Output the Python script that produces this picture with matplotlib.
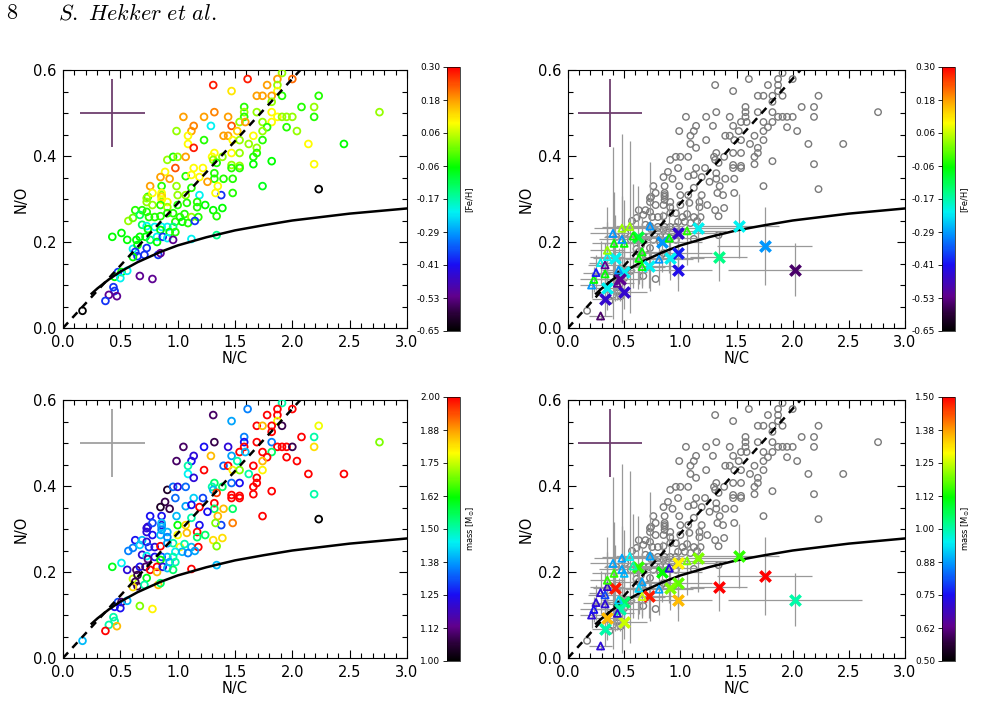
import numpy as np
import matplotlib
matplotlib.use('Agg')
import matplotlib.pyplot as plt
from matplotlib.colors import LinearSegmentedColormap, Normalize
from matplotlib.cm import ScalarMappable

# main sample: N/C, N/O, [Fe/H], mass
nc = [1.31, 1.47, 1.05, 1.23, 1.32, 1.44, 1.29, 1.47, 0.99, 1.12, 1.14, 1.09, 1.23, 1.09, 1.14, 1.32,
      1.40, 1.44, 1.48, 1.47, 0.91, 0.96, 1.00, 1.07, 1.30, 1.31, 1.39, 1.34, 0.98, 1.14, 1.22, 1.47,
      1.47, 0.89, 0.85, 0.93, 1.07, 1.12, 1.19, 1.32, 1.32, 1.40, 1.48, 1.26, 0.76, 0.86, 0.99, 1.12,
      1.35, 1.19, 1.38, 1.48, 0.74, 0.86, 1.61, 1.91, 2.00, 1.87, 1.78, 1.87, 1.87, 1.69, 1.74, 1.82,
      1.91, 2.23, 1.82, 2.08, 2.19, 2.76, 1.58, 1.58, 1.69, 1.82, 1.58, 1.87, 1.91, 1.95, 2.00, 2.19,
      1.54, 1.59, 1.74, 1.82, 1.78, 1.95, 2.04, 1.74, 1.52, 1.66, 1.54, 1.74, 1.62, 1.69, 2.14, 2.45,
      1.54, 1.69, 1.66, 1.82, 1.54, 1.54, 1.66, 2.19, 1.74, 2.23, 0.73, 0.73, 0.78, 0.86, 0.86, 0.86,
      0.91, 1.00, 1.07, 1.33, 0.63, 0.69, 0.78, 0.85, 0.91, 1.00, 1.08, 1.17, 1.17, 1.24, 1.31, 1.39,
      0.57, 0.61, 0.67, 0.73, 0.75, 0.80, 0.85, 0.91, 0.96, 1.02, 1.06, 1.12, 1.18, 0.98, 1.04, 1.09,
      1.15, 0.69, 0.73, 0.80, 0.86, 0.91, 0.96, 0.74, 0.85, 0.93, 0.98, 1.34, 0.43, 0.51, 0.56, 0.64,
      0.67, 0.72, 0.76, 0.82, 0.82, 0.87, 0.91, 0.96, 1.12, 1.34, 0.61, 0.65, 0.63, 0.73, 0.65, 0.71,
      0.61, 0.83, 0.85, 0.48, 0.51, 0.45, 0.50, 0.56, 0.67, 0.78, 0.44, 0.45, 0.40, 0.47, 0.37, 0.17]
no = [0.565, 0.551, 0.491, 0.491, 0.502, 0.491, 0.470, 0.470, 0.458, 0.458, 0.470, 0.447, 0.437, 0.428,
      0.419, 0.407, 0.447, 0.447, 0.437, 0.407, 0.391, 0.398, 0.398, 0.398, 0.398, 0.391, 0.398, 0.384,
      0.372, 0.372, 0.372, 0.379, 0.372, 0.363, 0.351, 0.347, 0.353, 0.356, 0.351, 0.360, 0.347, 0.347,
      0.347, 0.340, 0.330, 0.330, 0.330, 0.326, 0.330, 0.309, 0.309, 0.314, 0.305, 0.309, 0.579, 0.593,
      0.579, 0.579, 0.565, 0.565, 0.551, 0.540, 0.540, 0.540, 0.540, 0.540, 0.526, 0.514, 0.514, 0.502,
      0.514, 0.502, 0.502, 0.502, 0.491, 0.491, 0.491, 0.491, 0.491, 0.491, 0.479, 0.479, 0.479, 0.479,
      0.467, 0.467, 0.458, 0.458, 0.458, 0.447, 0.437, 0.437, 0.428, 0.419, 0.428, 0.428, 0.407, 0.407,
      0.398, 0.388, 0.377, 0.372, 0.381, 0.381, 0.330, 0.323, 0.302, 0.293, 0.314, 0.314, 0.305, 0.298,
      0.293, 0.309, 0.309, 0.314, 0.274, 0.274, 0.286, 0.286, 0.281, 0.286, 0.291, 0.293, 0.281, 0.286,
      0.274, 0.279, 0.249, 0.256, 0.263, 0.270, 0.258, 0.258, 0.260, 0.267, 0.267, 0.258, 0.265, 0.258,
      0.258, 0.247, 0.247, 0.244, 0.249, 0.240, 0.237, 0.235, 0.235, 0.235, 0.235, 0.230, 0.228, 0.223,
      0.223, 0.260, 0.212, 0.221, 0.205, 0.205, 0.212, 0.212, 0.205, 0.212, 0.200, 0.212, 0.209, 0.205,
      0.207, 0.216, 0.184, 0.193, 0.177, 0.186, 0.167, 0.170, 0.165, 0.170, 0.174, 0.130, 0.130, 0.119,
      0.116, 0.133, 0.121, 0.114, 0.095, 0.086, 0.077, 0.074, 0.063, 0.040]
feh = [0.28, 0.12, 0.18, 0.18, 0.20, 0.18, -0.22, 0.24, 0.03, 0.18, 0.20, 0.10, -0.04, 0.10, 0.28, 0.10,
       0.18, 0.18, 0.10, 0.10, 0.03, -0.04, 0.03, 0.18, 0.10, 0.03, 0.03, -0.04, 0.24, 0.10, 0.10, 0.03,
       -0.04, 0.10, 0.18, 0.18, -0.04, 0.10, 0.10, -0.04, -0.04, -0.04, -0.04, 0.18, 0.18, -0.04, 0.03, -0.04,
       0.10, -0.22, -0.38, -0.04, -0.04, 0.03, 0.28, 0.03, 0.22, 0.18, 0.18, 0.03, 0.10, 0.18, 0.18, 0.18,
       -0.04, -0.04, 0.03, -0.04, 0.03, 0.03, -0.04, 0.03, 0.03, 0.10, -0.04, 0.10, 0.03, 0.03, 0.03, -0.04,
       0.03, 0.18, 0.03, 0.10, -0.04, -0.04, 0.03, 0.03, 0.14, 0.10, 0.03, -0.04, 0.03, 0.03, 0.10, -0.06,
       0.03, -0.04, -0.04, -0.06, 0.03, -0.04, -0.06, 0.10, -0.08, -0.65, 0.03, 0.03, 0.10, 0.10, 0.14, 0.10,
       0.10, 0.03, 0.03, 0.10, -0.04, -0.04, 0.03, -0.04, 0.03, -0.04, -0.04, -0.04, -0.04, -0.06, -0.06, -0.06,
       0.03, 0.00, -0.12, -0.04, -0.04, -0.04, -0.04, -0.04, -0.04, -0.04, -0.04, 0.03, -0.04, -0.04, -0.06, -0.04,
       -0.38, -0.12, -0.22, -0.22, -0.22, -0.22, -0.15, -0.06, -0.06, -0.06, -0.04, -0.04, -0.06, -0.06, -0.06, -0.06,
       -0.06, -0.06, -0.12, -0.22, -0.06, -0.38, -0.22, -0.52, -0.22, -0.15, -0.22, -0.06, -0.38, -0.38, -0.38, -0.38,
       -0.06, -0.38, -0.52, -0.38, -0.06, -0.06, -0.22, -0.22, -0.52, -0.52, -0.38, -0.38, -0.52, -0.52, -0.38, -0.65]
mass = [1.10, 1.38, 1.10, 1.25, 1.08, 1.22, 1.85, 1.38, 1.10, 1.25, 1.22, 1.50, 2.00, 1.45, 1.22, 1.55,
        1.33, 2.00, 1.80, 1.33, 1.05, 1.33, 1.22, 1.33, 1.50, 1.40, 1.55, 1.95, 1.33, 1.42, 1.30, 2.00,
        2.00, 1.08, 1.05, 1.08, 1.38, 1.25, 2.00, 2.00, 1.55, 1.85, 1.55, 1.25, 1.25, 1.25, 1.40, 1.50,
        1.85, 1.25, 1.30, 1.90, 1.22, 1.22, 1.35, 1.50, 2.00, 2.00, 2.00, 2.00, 1.78, 2.00, 1.85, 2.00,
        1.08, 1.78, 2.00, 2.00, 1.50, 1.70, 1.35, 1.25, 2.00, 1.35, 2.00, 2.00, 2.00, 2.00, 1.08, 1.82,
        2.00, 1.40, 2.00, 1.55, 2.00, 2.00, 2.00, 1.85, 1.50, 2.00, 1.70, 1.80, 1.50, 2.00, 2.00, 2.00,
        1.25, 2.00, 2.00, 2.00, 2.00, 2.00, 2.00, 1.50, 2.00, 1.00, 1.22, 1.22, 1.30, 1.40, 1.40, 1.35,
        1.40, 1.62, 1.82, 1.70, 1.25, 1.40, 1.25, 1.40, 1.35, 1.78, 1.85, 2.00, 1.55, 1.55, 1.82, 1.82,
        1.35, 1.35, 1.42, 1.22, 1.30, 1.22, 2.00, 1.38, 1.50, 1.80, 1.50, 1.40, 2.00, 1.45, 1.40, 1.35,
        1.38, 1.22, 1.45, 1.25, 1.30, 1.40, 1.50, 1.12, 1.62, 1.38, 1.50, 1.70, 1.60, 1.45, 1.22, 1.10,
        1.25, 1.10, 2.00, 2.00, 1.85, 1.22, 1.40, 1.55, 2.00, 1.40, 1.75, 1.08, 1.08, 1.60, 1.08, 1.50,
        1.82, 1.85, 1.55, 1.30, 1.10, 1.25, 1.25, 1.40, 1.70, 1.80, 1.50, 1.50, 1.50, 1.85, 2.00, 1.40]

# second sample with uncertainties (crosses and triangles)
s2_kind = ['x'] * 18 + ['^'] * 25
s2_nc = [0.98, 1.16, 1.52, 1.75, 2.02, 1.34, 0.98, 0.98, 0.91, 0.84, 0.72, 0.62, 0.42, 0.50, 0.46, 0.50,
         0.33, 0.35,
         0.29, 0.21, 0.23, 0.25, 0.29, 0.33, 0.33, 0.35, 0.35, 0.41, 0.40, 0.48, 0.55, 0.50, 0.48, 0.58,
         0.66, 0.63, 0.66, 0.45, 0.73, 0.81, 0.90, 1.06, 0.44]
s2_no = [0.222, 0.233, 0.237, 0.191, 0.136, 0.166, 0.174, 0.136, 0.162, 0.201, 0.144, 0.211, 0.162, 0.131,
         0.113, 0.084, 0.067, 0.092,
         0.028, 0.100, 0.113, 0.129, 0.152, 0.126, 0.147, 0.166, 0.181, 0.197, 0.220, 0.232, 0.236, 0.197,
         0.206, 0.214, 0.177, 0.162, 0.143, 0.135, 0.237, 0.160, 0.209, 0.226, 0.104]
s2_xerr = [0.35, 0.45, 0.36, 0.42, 0.60, 0.25, 0.30, 0.30, 0.30, 0.35, 0.25, 0.30, 0.20, 0.20, 0.20, 0.20,
           0.12, 0.15,
           0.10, 0.10, 0.12, 0.12, 0.10, 0.12, 0.15, 0.15, 0.15, 0.20, 0.20, 0.25, 0.25, 0.20, 0.20, 0.25,
           0.25, 0.20, 0.20, 0.15, 0.30, 0.30, 0.30, 0.35, 0.15]
s2_yerr = [0.06, 0.08, 0.075, 0.09, 0.062, 0.057, 0.06, 0.05, 0.05, 0.07, 0.05, 0.12, 0.10, 0.06, 0.05, 0.04,
           0.04, 0.05,
           0.01, 0.03, 0.03, 0.04, 0.05, 0.04, 0.05, 0.08, 0.10, 0.12, 0.20, 0.22, 0.20, 0.10, 0.10, 0.12,
           0.08, 0.06, 0.05, 0.05, 0.15, 0.06, 0.08, 0.08, 0.04]
s2_feh = [-0.45, -0.22, -0.22, -0.30, -0.55, -0.15, -0.40, -0.42, -0.22, -0.30, -0.22, -0.10, -0.22, -0.22,
          -0.52, -0.45, -0.45, -0.22,
          -0.55, -0.30, -0.06, -0.40, -0.22, -0.06, -0.52, -0.22, 0.03, -0.06, -0.30, 0.03, 0.03, -0.06,
          -0.30, -0.06, -0.06, -0.06, -0.06, -0.30, -0.30, -0.30, -0.06, -0.04, -0.52]
s2_mass = [1.30, 1.20, 1.15, 1.50, 1.00, 1.50, 1.18, 1.35, 1.20, 1.12, 1.48, 1.15, 1.48, 1.05, 1.00, 1.25,
           1.00, 1.35,
           0.72, 0.72, 0.75, 0.72, 0.72, 0.72, 0.80, 0.70, 1.15, 1.15, 0.88, 0.88, 0.95, 0.90, 0.88, 1.00,
           0.88, 0.92, 1.25, 0.92, 0.88, 0.88, 0.72, 1.20, 0.72]

# model lines
curve_nc = [0.25, 0.30, 0.40, 0.50, 0.65, 0.85, 1.00, 1.25, 1.50, 1.75, 2.00, 2.25, 2.50, 2.75, 3.00]
curve_no = [0.080, 0.092, 0.113, 0.131, 0.153, 0.177, 0.192, 0.211, 0.227, 0.239, 0.250, 0.258, 0.266,
            0.272, 0.278]
dash_nc = [0.0, 2.07]
dash_no = [0.0, 0.60]

# typical uncertainty shown top left
err_nc, err_no, err_dnc, err_dno = 0.43, 0.50, 0.285, 0.08

feh_ticklabels = ['-0.65', '-0.53', '-0.41', '-0.29', '-0.17', '-0.06', '0.06', '0.18', '0.30']
mass_ticklabels = ['1.00', '1.12', '1.25', '1.38', '1.50', '1.62', '1.75', '1.88', '2.00']
mass2_ticklabels = ['0.50', '0.62', '0.75', '0.88', '1.00', '1.12', '1.25', '1.38', '1.50']

cmap = LinearSegmentedColormap.from_list('idl39', [
    (0.0, (0, 0, 0)), (0.06, (0.15, 0, 0.2)), (0.13, (0.38, 0, 0.55)), (0.25, (0.1, 0.05, 0.95)),
    (0.36, (0, 0.55, 1.0)), (0.45, (0, 0.95, 0.95)), (0.53, (0, 1, 0.5)), (0.62, (0, 1, 0)),
    (0.72, (0.6, 1, 0)), (0.79, (1, 1, 0)), (0.87, (1, 0.65, 0)), (1.0, (1, 0, 0))])

W, H = 1001, 705
fig = plt.figure(figsize=(W / 100, H / 100), dpi=100)


def box(l, t, r, b):
    return [l / W, 1 - b / H, (r - l) / W, (b - t) / H]


def setup(ax):
    ax.set_xlim(0, 3)
    ax.set_ylim(0, 0.6)
    ax.set_xticks(np.arange(0, 3.01, 0.5))
    ax.set_xticks(np.arange(0, 3.01, 0.1), minor=True)
    ax.set_yticks([0, 0.2, 0.4, 0.6])
    ax.set_yticks(np.arange(0, 0.61, 0.05), minor=True)
    ax.xaxis.set_major_formatter('{x:.1f}')
    ax.yaxis.set_major_formatter('{x:.1f}')
    ax.tick_params(which='both', direction='in', top=True, right=True, width=0.8, labelsize=10.5)
    ax.tick_params(which='major', length=6, pad=5)
    ax.tick_params(which='minor', length=3.5)
    for s in ax.spines.values():
        s.set_linewidth(0.8)
    ax.set_xlabel('N/C', fontsize=10.5, labelpad=1)
    ax.set_ylabel('N/O', fontsize=10.5, labelpad=3)


def lines(ax):
    ax.plot(dash_nc, dash_no, color='k', lw=1.8, dashes=(3, 2.5), zorder=4)
    ax.plot(curve_nc, curve_no, color='k', lw=1.8, zorder=4)


def colorbar(rect, vmin, vmax, labels, title):
    cax = fig.add_axes(box(*rect))
    cb = fig.colorbar(ScalarMappable(Normalize(vmin, vmax), cmap), cax=cax)
    cb.outline.set_linewidth(0.5)
    cb.set_ticks(np.linspace(vmin, vmax, len(labels)))
    cb.set_ticklabels(labels)
    cax.yaxis.set_ticks_position('left')
    cax.tick_params(labelsize=6.5, length=3, width=0.6, pad=2)
    cax.yaxis.set_label_position('right')
    cax.set_ylabel(title, fontsize=6, labelpad=3)


def left_panel(rect, vals, vmin, vmax, err_color):
    ax = fig.add_axes(box(*rect))
    setup(ax)
    norm = Normalize(vmin, vmax)
    ax.scatter(nc, no, s=24, facecolors='none', edgecolors=cmap(norm(np.array(vals))), linewidths=1.3, zorder=3)
    lines(ax)
    ax.errorbar([err_nc], [err_no], xerr=err_dnc, yerr=err_dno, fmt='none', ecolor=err_color, elinewidth=1.3)
    return ax


def right_panel(rect, vals, vmin, vmax, err_color):
    ax = fig.add_axes(box(*rect))
    setup(ax)
    norm = Normalize(vmin, vmax)
    ax.scatter(nc, no, s=22, facecolors='none', edgecolors='#7a7a7a', linewidths=1.0, zorder=2)
    ax.errorbar(s2_nc, s2_no, xerr=s2_xerr, yerr=s2_yerr, fmt='none', ecolor='#999999', elinewidth=0.9, zorder=2)
    lines(ax)
    cols = cmap(norm(np.array(vals)))
    for k, x, y, c in zip(s2_kind, s2_nc, s2_no, cols):
        if k == 'x':
            ax.scatter([x], [y], marker='x', s=55, color=[c], linewidths=2.6, zorder=5)
        else:
            ax.scatter([x], [y], marker='^', s=26, facecolors='none', edgecolors=[c], linewidths=1.3, zorder=5)
    ax.errorbar([err_nc - 0.06], [err_no], xerr=err_dnc, yerr=err_dno, fmt='none', ecolor=err_color, elinewidth=1.3)
    return ax


purple = '#6e3f6e'
left_panel((63, 70, 407, 328), feh, -0.65, 0.30, purple)
right_panel((568, 70, 905, 328), s2_feh, -0.65, 0.30, purple)
left_panel((63, 400, 407, 658), mass, 1.0, 2.0, '#a0a0a0')
right_panel((568, 400, 905, 658), s2_mass, 0.5, 1.5, purple)

colorbar((447, 67, 460, 331), -0.65, 0.30, feh_ticklabels, '[Fe/H]')
colorbar((942, 67, 955, 331), -0.65, 0.30, feh_ticklabels, '[Fe/H]')
colorbar((447, 397, 460, 661), 1.0, 2.0, mass_ticklabels, r'mass [M$_{\odot}$]')
colorbar((942, 397, 955, 661), 0.5, 1.5, mass2_ticklabels, r'mass [M$_{\odot}$]')

fig.text(6 / W, 1 - 13 / H, r'$8$', fontsize=16, math_fontfamily='cm', va='center')
fig.text(58 / W, 1 - 13 / H, r'$S.\ Hekker\ et\ al.$', fontsize=16, math_fontfamily='cm', va='center')

fig.savefig('out.png', dpi=100)
